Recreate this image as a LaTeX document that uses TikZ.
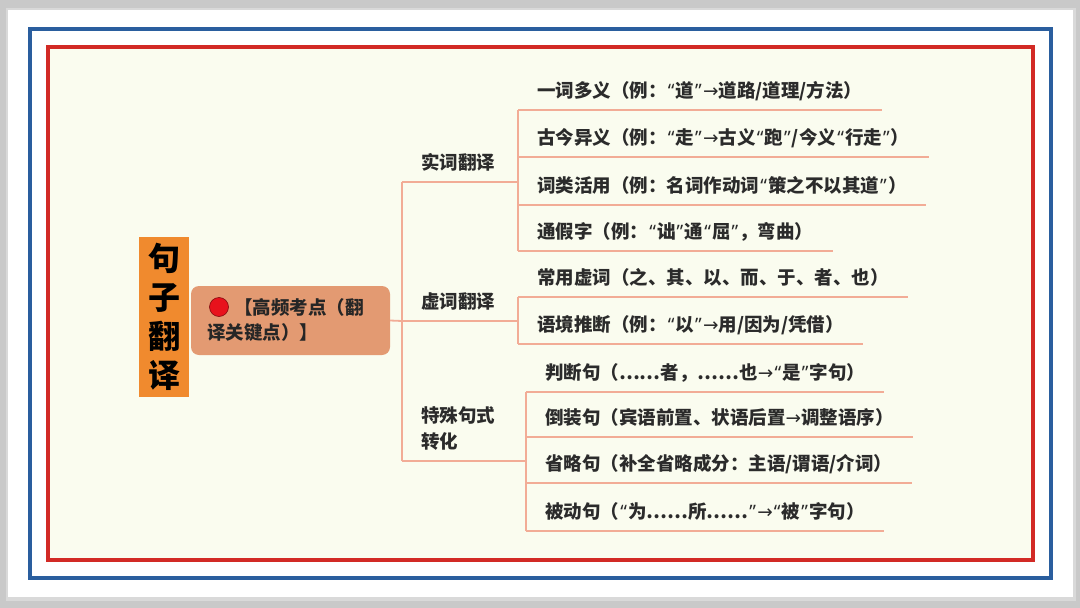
\documentclass[tikz,border=0pt]{standalone}
\usepackage{fontspec}
\newfontfamily\cjk{Noto Sans CJK SC}
\newfontfamily\quofont{Noto Sans}
\newfontfamily\arrfont{DejaVu Sans}
\usetikzlibrary{calc,positioning}

\newcommand\lquo{{\kern1.2pt\quofont\bfseries “\kern1.1pt}}
\newcommand\rquo{{\kern1.1pt\quofont\bfseries ”\kern1.2pt}}
\newcommand\rarr{{\arrfont\mdseries →}}

\definecolor{bggray}{HTML}{C9C9C9}
\definecolor{frameblue}{HTML}{2A5E9E}
\definecolor{framered}{HTML}{D22A25}
\definecolor{cream}{HTML}{FAFCEF}
\definecolor{linec}{HTML}{F2AC96}
\definecolor{titleorange}{HTML}{F08A2E}
\definecolor{mainfill}{HTML}{E39A72}
\definecolor{dotred}{HTML}{E8121C}
\definecolor{textc}{HTML}{2B2B2B}

\tikzset{
  branch/.style={draw=linec, line width=1.8pt},
  leaf/.style={anchor=south west, inner xsep=19pt, inner ysep=12.5pt,
    text depth=0pt, text=textc, font=\cjk\bfseries\fontsize{18.5}{26}\selectfont},
  cat/.style={leaf, align=left, text width=78pt},
  mainbox/.style={fill=mainfill, rounded corners=8pt, minimum width=199pt,
    minimum height=69pt, inner xsep=16pt, text width=167pt, align=left,
    text=black!85, font=\cjk\bfseries\fontsize{18.5}{25}\selectfont},
  titlebox/.style={fill=titleorange, minimum width=50pt, minimum height=160pt,
    inner sep=0pt, align=center, text=black,
    font=\cjk\bfseries\fontsize{32}{39}\selectfont},
}

\begin{document}
\begin{tikzpicture}[x=1pt, y=-1pt]
  \useasboundingbox (0,0) rectangle (1080,608);
  % page and frames
  \fill[bggray] (0,0) rectangle (1080,608);
  \fill[gray!30] (6,8) rectangle (1076,601);
  \fill[white] (8,10) rectangle (1073,597);
  \draw[frameblue, line width=4pt] (30,29) rectangle (1051,578);
  \filldraw[fill=cream, draw=framered, line width=4pt] (48,47) rectangle (1033,560);

  % title and main topic
  \node[titlebox] (title) at (164,317) {句\\子\\翻\\译};
  \node[mainbox] (main) at (290.5,320.5) {\hspace*{27pt}【高频考点（翻\\译关键点）】};
  \filldraw[fill=dotred, draw=dotred!55!black, line width=0.6pt] (219,307) circle (9.5);

  % categories
  \node[cat] (c1) at (402,182) {实词翻译};
  \node[cat] (c2) at (402,321) {虚词翻译};
  \node[cat, text width=86pt, text depth=26pt] (c3) at (402,461) {特殊句式\\转化};
  \draw[branch] (main.east) -- (c2.south west);
  \draw[branch] (c1.south west) -- (c3.south west);
  \foreach \c in {c1,c2,c3}
    \draw[branch] (\c.south west) -- (\c.south east);

  % leaves of the first branch
  \foreach \y/\t [count=\i] in {110/{一词多义（例：\lquo 道\rquo\rarr 道路/道理/方法）},
      157/{古今异义（例：\lquo 走\rquo\rarr 古义\lquo 跑\rquo/今义\lquo 行走\rquo）},
      205/{词类活用（例：名词作动词\lquo 策之不以其道\rquo）},
      251/{通假字（例：\lquo 诎\rquo 通\lquo 屈\rquo，弯曲）}}
    \node[leaf] (a\i) at (518,\y) {\t};
  % leaves of the second branch
  \foreach \y/\t [count=\i] in {297/{常用虚词（之、其、以、而、于、者、也）},
      344/{语境推断（例：\lquo 以\rquo\rarr 用/因为/凭借）}}
    \node[leaf] (b\i) at (518,\y) {\t};
  % leaves of the third branch
  \foreach \y/\t [count=\i] in {392/{判断句（……者，……也\rarr\lquo 是\rquo 字句）},
      437/{倒装句（宾语前置、状语后置\rarr 调整语序）},
      483/{省略句（补全省略成分：主语/谓语/介词）},
      531/{被动句（\lquo 为……所……\rquo\rarr\lquo 被\rquo 字句）}}
    \node[leaf] (d\i) at (526,\y) {\t};

  % brackets and underlines
  \draw[branch] (a1.south west) -- (a4.south west);
  \draw[branch] (b1.south west) -- (b2.south west);
  \draw[branch] (d1.south west) -- (d4.south west);
  \foreach \n in {a1,a2,a3,a4,b1,b2,d1,d2,d3,d4}
    \draw[branch] (\n.south west) -- (\n.south east);
\end{tikzpicture}
\end{document}
